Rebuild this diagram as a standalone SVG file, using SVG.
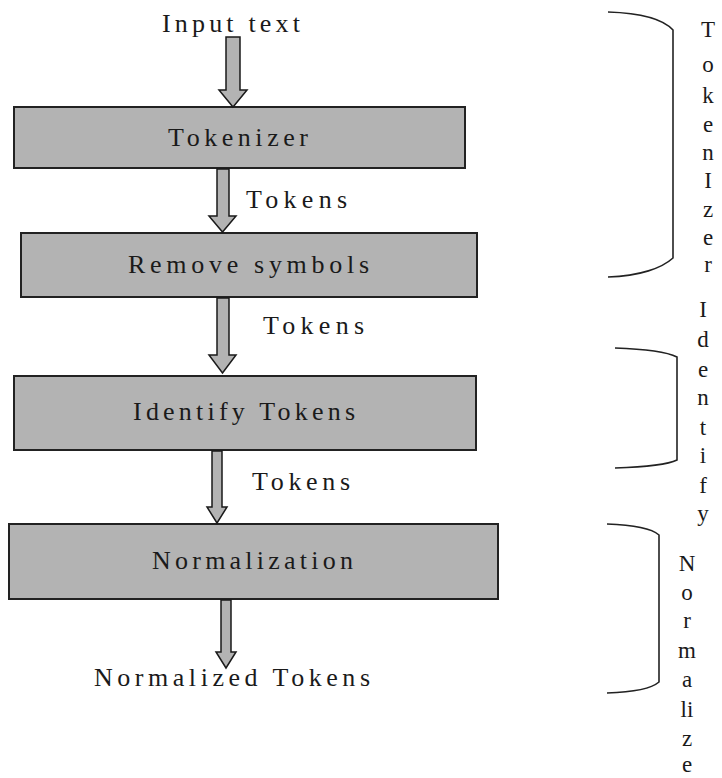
<svg xmlns="http://www.w3.org/2000/svg" width="722" height="778" viewBox="0 0 722 778">
<style>
.box{fill:#b3b3b3;stroke:#222;stroke-width:2}
.arr{fill:#b3b3b3;stroke:#1a1a1a;stroke-width:1.5;stroke-linejoin:miter}
.t{font-family:"Liberation Serif","Times New Roman",serif;font-size:26px;fill:#1a1a1a}
.v{font-family:"Liberation Serif","Times New Roman",serif;font-size:23px;fill:#1a1a1a;text-anchor:middle}
.br{fill:none;stroke:#222;stroke-width:1.6}
</style>
<rect width="722" height="778" fill="#fff"/>
<g id="input"><text class="t" x="162" y="32" textLength="138" lengthAdjust="spacing">Input text</text></g>
<g id="tokenizer"><rect class="box" x="14" y="107" width="451" height="61"/><text class="t" x="168" y="146" textLength="140" lengthAdjust="spacing">Tokenizer</text></g>
<g id="remove"><rect class="box" x="21" y="233" width="456" height="64"/><text class="t" x="128" y="273" textLength="241" lengthAdjust="spacing">Remove symbols</text></g>
<g id="identify"><rect class="box" x="14" y="376" width="462" height="74"/><text class="t" x="133" y="420" textLength="222" lengthAdjust="spacing">Identify Tokens</text></g>
<g id="normalization"><rect class="box" x="9" y="524" width="489" height="75"/><text class="t" x="152" y="569" textLength="201" lengthAdjust="spacing">Normalization</text></g>
<g id="output"><text class="t" x="94" y="686" textLength="276" lengthAdjust="spacing">Normalized Tokens</text></g>
<g id="connectors">
<polygon class="arr" points="226,37 240,37 240,90 247,90 233,107 219,90 226,90"/>
<polygon class="arr" points="217,169 229,169 229,216 236,216 222.5,232 209,216 217,216"/>
<polygon class="arr" points="217,298 229,298 229,355 236,355 222.5,373 209,355 217,355"/>
<polygon class="arr" points="212,451 222,451 222,507 227,507 217,523 207,507 212,507"/>
<polygon class="arr" points="221,600 231,600 231,652 236,652 226,668 216,652 221,652"/>
<text class="t" x="246" y="208" textLength="101" lengthAdjust="spacing">Tokens</text>
<text class="t" x="263" y="334" textLength="101" lengthAdjust="spacing">Tokens</text>
<text class="t" x="252" y="490" textLength="98" lengthAdjust="spacing">Tokens</text>
</g>
<g id="brace-tokenizer">
<path class="br" d="M608,12 C640,13 662,18 673,30 L673,258 C662,268 640,276 608,277"/>
<text class="v" x="708" y="37">T</text>
<text class="v" x="708" y="72">o</text>
<text class="v" x="708" y="103">k</text>
<text class="v" x="708" y="132">e</text>
<text class="v" x="708" y="160">n</text>
<text class="v" x="708" y="188">I</text>
<text class="v" x="708" y="217">z</text>
<text class="v" x="708" y="245">e</text>
<text class="v" x="708" y="272">r</text>
</g>
<g id="brace-identify">
<path class="br" d="M615,348 C645,349 667,352 677,357 L677,460 C667,465 645,467 615,468"/>
<text class="v" x="703" y="317">I</text>
<text class="v" x="703" y="347">d</text>
<text class="v" x="703" y="377">e</text>
<text class="v" x="703" y="405">n</text>
<text class="v" x="703" y="435">t</text>
<text class="v" x="703" y="463">i</text>
<text class="v" x="703" y="493">f</text>
<text class="v" x="703" y="521">y</text>
</g>
<g id="brace-normalize">
<path class="br" d="M607,524 C635,525 651,528 659,535 L659,682 C651,689 635,692 607,693"/>
<text class="v" x="687" y="571">N</text>
<text class="v" x="687" y="600">o</text>
<text class="v" x="687" y="628">r</text>
<text class="v" x="687" y="658">m</text>
<text class="v" x="687" y="687">a</text>
<text class="v" x="687" y="717">li</text>
<text class="v" x="687" y="746">z</text>
<text class="v" x="687" y="772">e</text>
</g>
</svg>
